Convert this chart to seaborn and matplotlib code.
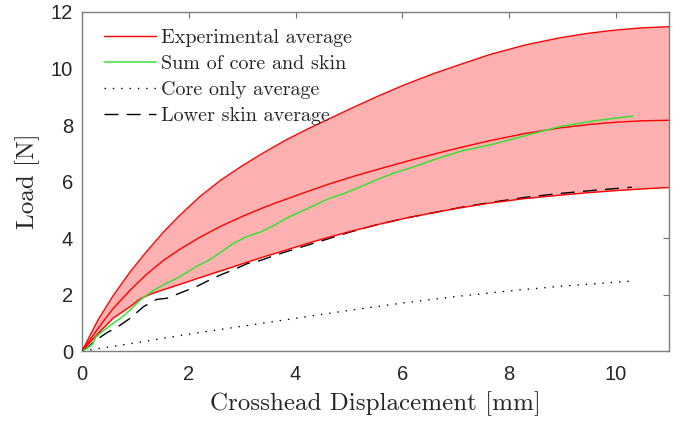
import numpy as np
import matplotlib
matplotlib.use("Agg")
import matplotlib.pyplot as plt
import seaborn as sns

# Experimental envelope: upper bound and average share a displacement grid
exp_x = [0, 0.3, 0.58, 0.9, 1.2, 1.52, 1.83, 2.21, 2.6, 3.02, 3.43, 3.83, 4.24, 4.64,
         5.08, 5.52, 6.05, 6.59, 7.08, 7.65, 8.3, 8.96, 9.5, 10.0, 10.5, 11.0]
exp_upper = [0, 1.1, 1.95, 2.8, 3.5, 4.2, 4.8, 5.47, 6.05, 6.58, 7.05, 7.48, 7.87, 8.23,
             8.62, 9.0, 9.43, 9.82, 10.14, 10.5, 10.83, 11.09, 11.25, 11.36, 11.44, 11.48]
exp_mean = [0, 0.8, 1.5, 2.15, 2.7, 3.2, 3.6, 4.03, 4.42, 4.78, 5.1, 5.38, 5.66, 5.92,
            6.18, 6.42, 6.7, 6.97, 7.2, 7.45, 7.7, 7.9, 8.02, 8.1, 8.15, 8.17]

# Experimental lower bound
low_x = [0, 0.3, 0.58, 0.9, 1.09, 1.3, 1.52, 1.83, 2.21, 2.6, 3.02, 3.43, 3.83, 4.24, 4.64,
         5.08, 5.52, 6.05, 6.59, 7.08, 7.65, 8.3, 8.96, 9.5, 10.0, 10.5, 11.0]
exp_lower = [0, 0.62, 1.16, 1.57, 1.85, 2.03, 2.17, 2.36, 2.6, 2.84, 3.1, 3.35, 3.58, 3.82, 4.04,
             4.26, 4.47, 4.7, 4.9, 5.07, 5.24, 5.4, 5.52, 5.61, 5.68, 5.74, 5.79]

# Sum of core and skin
sum_x = [0, 0.1, 0.2, 0.26, 0.4, 0.58, 0.75, 0.9, 1.09, 1.3, 1.52, 1.83, 2.14, 2.39, 2.6,
         2.83, 3.05, 3.2, 3.33, 3.6, 3.83, 4.2, 4.64, 4.9, 5.2, 5.52, 5.84, 6.15, 6.59, 7.09,
         7.65, 8.3, 8.96, 9.6, 10.32]
sum_y = [0, 0.1, 0.25, 0.5, 0.72, 0.98, 1.2, 1.45, 1.81, 2.1, 2.34, 2.63, 2.99, 3.23, 3.5,
         3.8, 4.02, 4.13, 4.2, 4.45, 4.7, 5.02, 5.41, 5.57, 5.8, 6.06, 6.3, 6.48, 6.77, 7.07,
         7.3, 7.62, 7.95, 8.15, 8.32]

# Core only average
core_x = [0, 1, 2, 3, 4, 5, 6, 7, 8, 9, 10.3]
core_y = [0, 0.29, 0.6, 0.88, 1.16, 1.44, 1.7, 1.93, 2.13, 2.3, 2.48]

# Lower skin average
skin_x = [0, 0.1, 0.26, 0.45, 0.7, 0.9, 1.15, 1.4, 1.59, 1.83, 2.14, 2.33, 2.6, 2.83, 3.1,
          3.33, 3.6, 3.83, 4.45, 5.0, 5.52, 6.05, 6.59, 7.08, 7.65, 8.3, 8.96, 9.6, 10.3]
skin_y = [0, 0.12, 0.39, 0.63, 0.9, 1.16, 1.57, 1.83, 1.87, 2.05, 2.28, 2.46, 2.7, 2.87, 3.1,
          3.2, 3.38, 3.52, 3.88, 4.2, 4.47, 4.7, 4.9, 5.08, 5.26, 5.44, 5.58, 5.69, 5.8]

x_ticks = [0, 2, 4, 6, 8, 10]
y_ticks = [0, 2, 4, 6, 8, 10, 12]

sns.set_style("white")
plt.rcParams["font.family"] = ["Liberation Sans", "DejaVu Sans"]
serif = ["cmr10", "DejaVu Serif"]

fig = plt.figure(figsize=(6.8, 4.21), dpi=100)
ax = fig.add_axes([0.1206, 0.166, 0.8634, 0.8055])

# shaded band between the upper and lower bounds
grid = np.linspace(0, 11, 600)
up_i = np.interp(grid, exp_x, exp_upper)
lo_i = np.interp(grid, low_x, exp_lower)
ax.fill_between(grid, lo_i, up_i, color="#ffb0b0", lw=0, zorder=1)

red = "#ff0000"
sns.lineplot(x=exp_x, y=exp_upper, ax=ax, color=red, lw=1.0, sort=False, zorder=3)
sns.lineplot(x=low_x, y=exp_lower, ax=ax, color=red, lw=1.0, sort=False, zorder=3)
sns.lineplot(x=exp_x, y=exp_mean, ax=ax, color=red, lw=1.0, sort=False, zorder=3,
             label="Experimental average")
sns.lineplot(x=sum_x, y=sum_y, ax=ax, color="#38e038", lw=1.1, sort=False, zorder=4,
             label="Sum of core and skin")
sns.lineplot(x=core_x, y=core_y, ax=ax, color="black", lw=1.0, sort=False, zorder=4,
             linestyle=(0, (1, 5)), label="Core only average")
sns.lineplot(x=skin_x, y=skin_y, ax=ax, color="black", lw=1.0, sort=False, zorder=2,
             linestyle=(0, (10, 6)), label="Lower skin average")

ax.set_xlim(0, 11)
ax.set_ylim(0, 12)
ax.set_xticks(x_ticks)
ax.set_yticks(y_ticks)
ax.tick_params(direction="in", top=True, right=True, length=4.3, width=0.8,
               color="#6e6e6e", labelsize=14.5, labelcolor="#262626")
ax.tick_params(axis="x", pad=10)
ax.tick_params(axis="y", pad=6.5)
for s in ax.spines.values():
    s.set_color("#7f7f7f")
    s.set_linewidth(1.0)

ax.set_xlabel("Crosshead Displacement [mm]", family=serif, fontsize=18, color="#262626", labelpad=5)
ax.set_ylabel("Load [N]", family=serif, fontsize=18, color="#262626", labelpad=8)

ax.legend(loc="upper left", frameon=False, prop={"family": serif, "size": 14.5},
          handlelength=2.6, handletextpad=0.25, labelspacing=0.4,
          borderaxespad=0.3, bbox_to_anchor=(0.0135, 0.993))

fig.savefig("out.png", dpi=100)
